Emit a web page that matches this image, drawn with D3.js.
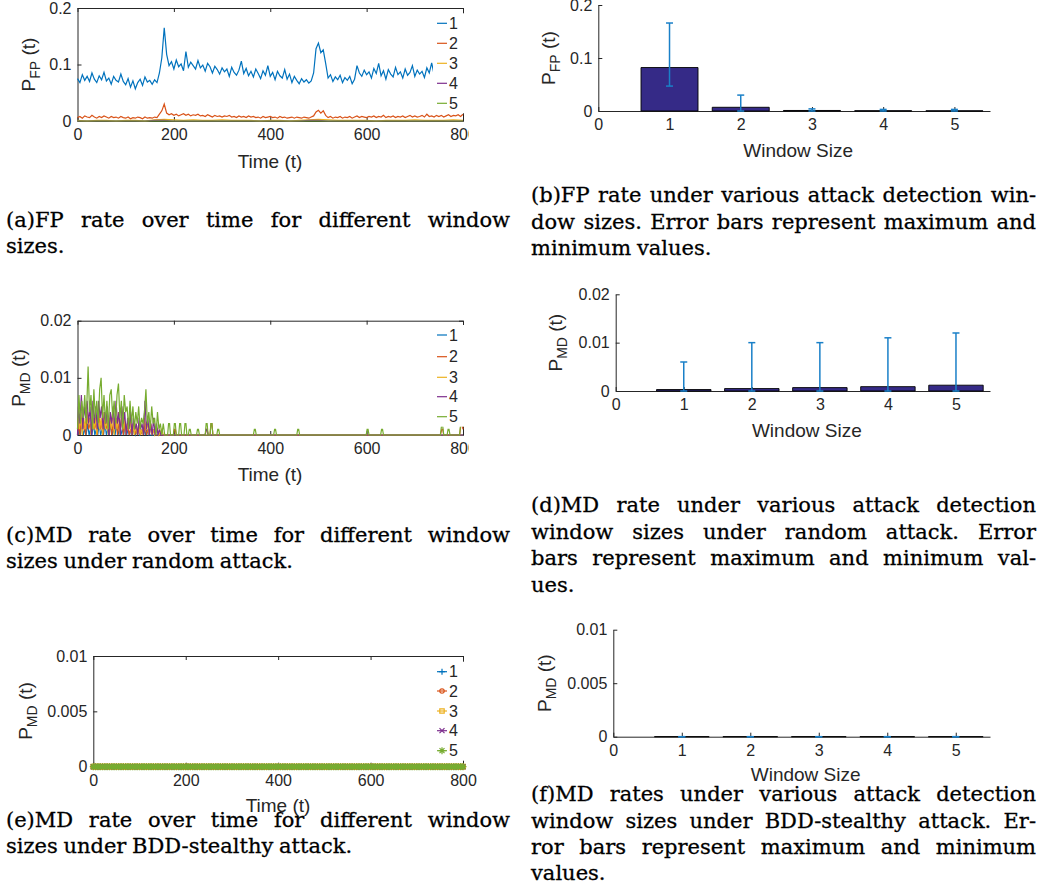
<!DOCTYPE html>
<html lang="en">
<head>
<meta charset="UTF-8">
<title>FP / MD rates for different window sizes</title>
<script src="https://d3js.org/d3.v7.min.js"></script>
<style>
  body { margin: 0; padding: 0; background: #fff; }
  svg { display: block; }
  .tick text, .lbl { font-family: "Liberation Sans", Arial, sans-serif; fill: #262626; }
  .cap { font-family: "DejaVu Serif", serif; fill: #000; stroke: #000; stroke-width: 0.3px; }
</style>
</head>
<body>
<svg id="fig" width="1043" height="894"></svg>
<script>
// ---------- data ----------
const windows = [1, 2, 3, 4, 5];
const timeTicks = [0, 200, 400, 600, 800];
const barTicks = [0, 1, 2, 3, 4, 5];
const fpTicks = [0, 0.1, 0.2];
const mdRandTicks = [0, 0.01, 0.02];
const mdBddTicks = [0, 0.005, 0.01];

// (a) FP rate, sampled every 5 time steps (t = 0..800)
const fpTime = d3.range(0, 801, 5);
const fpWin1 = [
  0.075, 0.068, 0.082, 0.072, 0.079, 0.070, 0.085, 0.074, 0.068, 0.080,
  0.073, 0.086, 0.071, 0.076, 0.065, 0.079, 0.072, 0.069, 0.083, 0.070,
  0.064, 0.075, 0.060, 0.071, 0.057, 0.068, 0.074, 0.063, 0.078, 0.069,
  0.072, 0.065, 0.073, 0.068, 0.085, 0.112, 0.165, 0.118, 0.098, 0.105,
  0.092, 0.108, 0.096, 0.101, 0.089, 0.123, 0.095, 0.104, 0.098, 0.092,
  0.107, 0.094, 0.099, 0.088, 0.102, 0.096, 0.085, 0.097, 0.091, 0.083,
  0.094, 0.087, 0.092, 0.079, 0.095, 0.086, 0.081, 0.090, 0.106, 0.084,
  0.093, 0.080, 0.088, 0.078, 0.092, 0.084, 0.075, 0.089, 0.081, 0.098,
  0.079, 0.086, 0.073, 0.088, 0.080, 0.076, 0.091, 0.074, 0.083, 0.068,
  0.079, 0.072, 0.066, 0.075, 0.069, 0.073, 0.067, 0.071, 0.085, 0.128,
  0.138, 0.121, 0.126, 0.102, 0.076, 0.082, 0.070, 0.078, 0.073, 0.081,
  0.068, 0.077, 0.072, 0.079, 0.066, 0.074, 0.098, 0.085, 0.079, 0.090,
  0.082, 0.087, 0.076, 0.093, 0.084, 0.102, 0.080, 0.089, 0.074, 0.091,
  0.083, 0.078, 0.095, 0.082, 0.087, 0.076, 0.092, 0.081, 0.086, 0.098,
  0.079, 0.090, 0.083, 0.088, 0.077, 0.094, 0.085, 0.103, 0.082, 0.091,
  0.086, 0.093, 0.081, 0.089, 0.084, 0.092, 0.087, 0.095, 0.088, 0.096,
  0.101
];
const fpWin2 = [
  0.006, 0.008, 0.005, 0.009, 0.007, 0.006, 0.010, 0.007, 0.005, 0.008,
  0.006, 0.009, 0.007, 0.005, 0.008, 0.006, 0.007, 0.005, 0.008, 0.006,
  0.005, 0.007, 0.004, 0.006, 0.005, 0.007, 0.006, 0.004, 0.007, 0.005,
  0.006, 0.005, 0.007, 0.006, 0.012, 0.018, 0.030, 0.014, 0.011, 0.013,
  0.010, 0.012, 0.009, 0.011, 0.013, 0.010, 0.012, 0.009, 0.011, 0.010,
  0.012, 0.009, 0.010, 0.008, 0.011, 0.009, 0.007, 0.010, 0.008, 0.009,
  0.007, 0.009, 0.008, 0.010, 0.007, 0.008, 0.006, 0.009, 0.007, 0.008,
  0.006, 0.009, 0.007, 0.008, 0.006, 0.007, 0.005, 0.008, 0.006, 0.007,
  0.008, 0.006, 0.007, 0.005, 0.008, 0.006, 0.007, 0.005, 0.006, 0.007,
  0.005, 0.007, 0.006, 0.005, 0.007, 0.006, 0.005, 0.007, 0.009, 0.016,
  0.019, 0.014, 0.018, 0.010, 0.006, 0.008, 0.005, 0.007, 0.006, 0.008,
  0.005, 0.007, 0.006, 0.008, 0.005, 0.007, 0.009, 0.006, 0.008, 0.007,
  0.006, 0.008, 0.007, 0.009, 0.006, 0.008, 0.007, 0.010, 0.006, 0.008,
  0.007, 0.009, 0.006, 0.008, 0.007, 0.009, 0.006, 0.008, 0.010, 0.007,
  0.009, 0.007, 0.008, 0.010, 0.007, 0.012, 0.008, 0.009, 0.007, 0.010,
  0.008, 0.010, 0.007, 0.009, 0.011, 0.008, 0.010, 0.009, 0.011, 0.008,
  0.012
];
// windows 3-5 sampled every 20 time steps
const fpTimeCoarse = d3.range(0, 801, 20);
const fpWin3 = [
  0.001, 0, 0.001, 0.001, 0, 0.001, 0.001, 0, 0.002, 0.003,
  0.002, 0.001, 0.002, 0.001, 0.001, 0.002, 0.001, 0.001, 0.001, 0,
  0.001, 0.001, 0, 0.001, 0.002, 0.003, 0.002, 0.001, 0.001, 0.001,
  0.001, 0, 0.001, 0.001, 0.001, 0.002, 0.001, 0.001, 0.001, 0.002,
  0.001
];
const fpWin4 = [
  0, 0, 0, 0, 0, 0, 0, 0, 0.001, 0.001,
  0, 0, 0, 0, 0, 0, 0, 0, 0, 0,
  0, 0, 0, 0, 0.001, 0.001, 0, 0, 0, 0,
  0, 0, 0, 0, 0, 0, 0, 0, 0, 0,
  0
];
const fpWin5 = [
  0, 0, 0, 0, 0, 0, 0, 0, 0, 0,
  0, 0, 0, 0, 0, 0, 0, 0, 0, 0,
  0, 0, 0, 0, 0, 0, 0, 0, 0, 0,
  0, 0, 0, 0, 0, 0, 0, 0, 0, 0,
  0
];

// (c) MD rate under random attack, [time, value] points
const mdRandWin1 = [[0,0],[3,0.001],[6,0],[9,0.002],[12,0],[15,0.001],[18,0],[21,0.002],[24,0],[27,0.001],[30,0],[33,0.002],[36,0],[39,0.001],[42,0],[45,0.002],[48,0],[51,0.001],[54,0],[57,0.002],[60,0],[63,0.001],[66,0],[69,0.002],[72,0],[75,0.001],[78,0],[81,0.002],[84,0],[87,0.001],[90,0],[93,0.001],[96,0],[99,0.002],[102,0],[105,0.001],[108,0],[111,0.001],[114,0],[117,0.001],[120,0],[126,0.001],[129,0],[138,0.001],[141,0],[144,0.001],[147,0],[800,0]];
const mdRandWin2 = [[0,0],[2,0.002],[5,0],[8,0.003],[11,0.001],[14,0.002],[17,0],[20,0.004],[23,0.001],[26,0.002],[29,0],[32,0.003],[35,0.001],[38,0.002],[41,0],[44,0.004],[47,0.001],[50,0.002],[53,0],[56,0.003],[59,0.001],[62,0.002],[65,0],[68,0.003],[71,0],[74,0.002],[77,0.001],[80,0.003],[83,0],[86,0.002],[89,0.001],[92,0.003],[95,0],[98,0.002],[101,0],[104,0.002],[107,0],[110,0.001],[113,0],[116,0.002],[119,0],[122,0.001],[125,0],[128,0.002],[131,0],[134,0.001],[137,0],[140,0.002],[143,0],[146,0.001],[149,0],[152,0.002],[155,0],[158,0.001],[161,0],[199,0],[201,0.001],[203,0.001],[205,0],[265,0],[267,0.001],[269,0.001],[271,0],[275,0],[277,0.002],[279,0.002],[281,0],[753,0],[756,0.001],[758,0.001],[760,0],[793,0],[796,0.002],[798,0.002],[800,0.001]];
const mdRandWin3 = [[0,0.001],[1,0.003],[4,0.001],[7,0.004],[10,0],[13,0.003],[16,0.001],[19,0.005],[22,0.002],[25,0.003],[28,0],[31,0.004],[34,0.001],[37,0.003],[40,0],[43,0.004],[46,0.001],[49,0.003],[52,0],[55,0.004],[58,0.001],[61,0.003],[64,0],[67,0.003],[70,0.001],[73,0.004],[76,0],[79,0.003],[82,0.001],[85,0.004],[88,0],[91,0.003],[94,0.001],[97,0.003],[100,0],[103,0.002],[106,0.001],[109,0.003],[112,0],[115,0.002],[118,0],[121,0.002],[124,0],[127,0.002],[130,0],[133,0.001],[136,0],[139,0.003],[142,0.001],[145,0.002],[148,0],[151,0.002],[154,0],[157,0.001],[160,0],[166,0.001],[169,0],[175,0.001],[178,0],[800,0]];
const mdRandWin4 = [[0,0],[2,0.005],[5,0.002],[8,0.007],[11,0.001],[14,0.005],[17,0.003],[20,0.006],[23,0.002],[26,0.005],[29,0],[32,0.006],[35,0.002],[38,0.005],[41,0.001],[44,0.006],[47,0.003],[50,0.005],[53,0.001],[56,0.004],[59,0.002],[62,0.005],[65,0],[68,0.004],[71,0.002],[74,0.005],[77,0.001],[80,0.006],[83,0.002],[86,0.004],[89,0],[92,0.005],[95,0.002],[98,0.004],[101,0],[104,0.003],[107,0.001],[110,0.004],[113,0],[116,0.003],[119,0.001],[122,0.002],[125,0],[128,0.003],[131,0.001],[134,0.002],[137,0],[140,0.006],[143,0.001],[146,0.003],[149,0],[152,0.002],[155,0],[158,0.003],[161,0],[164,0.002],[167,0],[170,0.001],[173,0],[265,0],[267,0.001],[269,0.001],[271,0],[800,0]];
const mdRandWin5 = [[0,0.001],[3,0.007],[6,0.002],[9,0.006],[12,0.003],[15,0.007],[18,0.002],[22,0.012],[25,0.004],[28,0.007],[31,0.001],[34,0.008],[37,0.003],[40,0.006],[43,0.002],[46,0.008],[49,0.010],[52,0.003],[55,0.007],[58,0.002],[61,0.006],[64,0.001],[67,0.007],[70,0.008],[73,0.003],[76,0.006],[79,0.002],[82,0.007],[85,0.009],[88,0.003],[91,0.006],[94,0.001],[97,0.007],[100,0.004],[103,0.005],[106,0.001],[109,0.006],[112,0.002],[115,0.005],[118,0.001],[121,0.004],[124,0.002],[127,0.005],[130,0.001],[133,0.003],[136,0.002],[139,0.004],[142,0.008],[145,0.002],[148,0.004],[151,0.001],[154,0.005],[157,0.002],[160,0.003],[163,0],[166,0.004],[169,0.001],[172,0.002],[175,0],[178,0.002],[181,0],
  [187,0],[189,0.002],[191,0.002],[193,0],[199,0],[201,0.002],[203,0.002],[205,0],[210,0],[212,0.002],[214,0.002],[216,0],[221,0],[223,0.002],[225,0.002],[227,0],[230,0],[232,0.001],[234,0.001],[236,0],[247,0],[249,0.001],[251,0.001],[253,0],[265,0],[267,0.002],[269,0.002],[271,0],[275,0],[277,0.002],[279,0.002],[281,0],[289,0],[291,0.001],[293,0.001],[295,0],[365,0],[367,0.001],[369,0.001],[371,0],[407,0],[409,0.001],[411,0.001],[413,0],[455,0],[457,0.001],[459,0.001],[461,0],[599,0],[601,0.001],[603,0.001],[605,0],[629,0],[631,0.001],[633,0.001],[635,0],[753,0],[756,0.002],[758,0.0015],[760,0],[767,0],[769,0.001],[771,0.001],[773,0],[793,0],[796,0.003],[798,0.003],[800,0.0015]];

// (e) MD rate under BDD-stealthy attack, every 5 time steps: identical for all windows
const mdBddTime = d3.range(0, 801, 5);
const mdBddValues = [
  0,0,0,0,0,0,0,0,0,0, 0,0,0,0,0,0,0,0,0,0, 0,0,0,0,0,0,0,0,0,0, 0,0,0,0,0,0,0,0,0,0,
  0,0,0,0,0,0,0,0,0,0, 0,0,0,0,0,0,0,0,0,0, 0,0,0,0,0,0,0,0,0,0, 0,0,0,0,0,0,0,0,0,0,
  0,0,0,0,0,0,0,0,0,0, 0,0,0,0,0,0,0,0,0,0, 0,0,0,0,0,0,0,0,0,0, 0,0,0,0,0,0,0,0,0,0,
  0,0,0,0,0,0,0,0,0,0, 0,0,0,0,0,0,0,0,0,0, 0,0,0,0,0,0,0,0,0,0, 0,0,0,0,0,0,0,0,0,0,
  0
];

// (b) (d) (f) bar charts: mean, max, min
const fpBarMean = [0.082, 0.007, 0.001, 0.0005, 0.0003];
const fpBarMax = [0.166, 0.030, 0.004, 0.003, 0.003];
const fpBarMin = [0.047, 0, 0, 0, 0];
const mdRandBarMean = [0.0003, 0.0005, 0.0007, 0.0009, 0.0012];
const mdRandBarMax = [0.006, 0.010, 0.010, 0.011, 0.012];
const mdRandBarMin = [0, 0, 0, 0, 0];
const mdBddBarMean = [0, 0, 0, 0, 0];
const mdBddBarMax = [0, 0, 0, 0, 0];
const mdBddBarMin = [0, 0, 0, 0, 0];

// captions
const capA = ["(a)FP rate over time for different window", "sizes."];
const capB = ["(b)FP rate under various attack detection win-", "dow sizes. Error bars represent maximum and", "minimum values."];
const capC = ["(c)MD rate over time for different window", "sizes under random attack."];
const capD = ["(d)MD rate under various attack detection", "window sizes under random attack. Error", "bars represent maximum and minimum val-", "ues."];
const capE = ["(e)MD rate over time for different window", "sizes under BDD-stealthy attack."];
const capF = ["(f)MD rates under various attack detection", "window sizes under BDD-stealthy attack. Er-", "ror bars represent maximum and minimum", "values."];

// ---------- drawing ----------
const AX = "#262626";
const COLORS = ["#0072BD", "#D95319", "#EDB120", "#7E2F8E", "#77AC30"];
const BAR = "#352a87";
const ERR = "#1a80c8";
const TICK_FS = 16, LABEL_FS = 19, CAP_FS = 21;

const svg = d3.select("#fig");
svg.append("rect").attr("width", 1043).attr("height", 894).attr("fill", "#fff");

const defs = svg.append("defs");
defs.append("clipPath").attr("id", "leftCrop")
  .append("rect").attr("x", 0).attr("y", 0).attr("width", 469).attr("height", 894);

function styleAxis(sel) {
  sel.selectAll("path.domain").attr("stroke", AX).attr("stroke-width", 1);
  sel.selectAll(".tick line").attr("stroke", AX);
  sel.selectAll(".tick text").style("font-size", TICK_FS + "px").attr("fill", AX);
}

function drawAxes(g, x, y, xTicks, yTicks, box) {
  const [x0, x1] = x.range();
  const [y1, y0] = y.range();
  g.append("g").attr("transform", `translate(0,${y1})`)
    .call(d3.axisBottom(x).tickValues(xTicks).tickFormat(String).tickSizeInner(-4).tickSizeOuter(0).tickPadding(8))
    .call(styleAxis);
  g.append("g").attr("transform", `translate(${x0},0)`)
    .call(d3.axisLeft(y).tickValues(yTicks).tickFormat(String).tickSizeInner(-4).tickSizeOuter(0).tickPadding(6))
    .call(styleAxis);
  if (box) {
    g.append("g").attr("transform", `translate(0,${y0})`)
      .call(d3.axisTop(x).tickValues(xTicks).tickFormat("").tickSizeInner(-4).tickSizeOuter(0))
      .call(styleAxis);
    g.append("g").attr("transform", `translate(${x1},0)`)
      .call(d3.axisRight(y).tickValues(yTicks).tickFormat("").tickSizeInner(-4).tickSizeOuter(0))
      .call(styleAxis);
  }
}

function xLabel(g, x, y, txt) {
  g.append("text").attr("class", "lbl").attr("x", x).attr("y", y)
    .attr("text-anchor", "middle").style("font-size", LABEL_FS + "px").text(txt);
}

function yLabel(g, x, y, sub) {
  const t = g.append("text").attr("class", "lbl")
    .attr("transform", `translate(${x},${y}) rotate(-90)`)
    .attr("text-anchor", "middle").style("font-size", LABEL_FS + "px");
  t.append("tspan").text("P");
  t.append("tspan").attr("dy", 5).style("font-size", "14px").text(sub);
  t.append("tspan").attr("dy", -5).text(" (t)");
}

function legend(g, x, ys, markers) {
  g.append("rect").attr("x", x - 4).attr("y", ys[0] - 10).attr("width", 33)
    .attr("height", ys[ys.length - 1] - ys[0] + 20).attr("fill", "#fff");
  windows.forEach((w, i) => {
    g.append("line").attr("x1", x).attr("x2", x + 10).attr("y1", ys[i]).attr("y2", ys[i])
      .attr("stroke", COLORS[i]).attr("stroke-width", 1.2);
    if (markers) {
      g.append("path").attr("d", markers[i]).attr("transform", `translate(${x + 5},${ys[i]})`)
        .attr("fill", "none").attr("stroke", COLORS[i]).attr("stroke-width", 1.2);
    }
    g.append("text").attr("class", "lbl").attr("x", x + 12).attr("y", ys[i]).attr("dy", "0.36em")
      .style("font-size", TICK_FS + "px").attr("fill", "#000").text(w);
  });
}

// ----- (a) -----
{
  const g = svg.append("g").attr("clip-path", "url(#leftCrop)");
  const x = d3.scaleLinear().domain([0, 800]).range([77.5, 463]);
  const y = d3.scaleLinear().domain([0, 0.2]).range([121, 8]);
  drawAxes(g, x, y, timeTicks, fpTicks, true);
  const line = d3.line().x(d => x(d[0])).y(d => y(d[1]));
  const series = [
    d3.zip(fpTime, fpWin1), d3.zip(fpTime, fpWin2),
    d3.zip(fpTimeCoarse, fpWin3), d3.zip(fpTimeCoarse, fpWin4), d3.zip(fpTimeCoarse, fpWin5)
  ];
  series.forEach((s, i) => {
    g.append("path").datum(s).attr("d", line).attr("fill", "none")
      .attr("stroke", COLORS[i]).attr("stroke-width", 1.2);
  });
  legend(g, 437, [23.3, 43.3, 63.3, 83.3, 103.3]);
  xLabel(g, 270, 168, "Time (t)");
  yLabel(g, 35, 64.5, "FP");
}

// ----- (c) -----
{
  const g = svg.append("g").attr("clip-path", "url(#leftCrop)");
  const x = d3.scaleLinear().domain([0, 800]).range([77.5, 463]);
  const y = d3.scaleLinear().domain([0, 0.02]).range([435, 320.7]);
  drawAxes(g, x, y, timeTicks, mdRandTicks, true);
  const line = d3.line().x(d => x(d[0])).y(d => y(d[1]));
  [mdRandWin1, mdRandWin2, mdRandWin3, mdRandWin4, mdRandWin5].forEach((s, i) => {
    g.append("path").datum(s).attr("d", line).attr("fill", "none")
      .attr("stroke", COLORS[i]).attr("stroke-width", 1.2);
  });
  legend(g, 437, [335, 356.7, 377.3, 396.7, 416.7]);
  xLabel(g, 270, 481, "Time (t)");
  yLabel(g, 25, 378, "MD");
}

// ----- (e) -----
{
  const g = svg.append("g");
  const x = d3.scaleLinear().domain([0, 800]).range([93.3, 463]);
  const y = d3.scaleLinear().domain([0, 0.01]).range([766.7, 656]);
  drawAxes(g, x, y, timeTicks, mdBddTicks, true);
  const markers = [
    "M-3,0H3M0,-3V3",
    "M2.2,0A2.2,2.2 0 1,1 -2.2,0A2.2,2.2 0 1,1 2.2,0Z",
    "M-2.2,-2.2H2.2V2.2H-2.2Z",
    "M-2.5,-2.5L2.5,2.5M-2.5,2.5L2.5,-2.5",
    "M-3.5,0H3.5M0,-3.5V3.5M-2.5,-2.5L2.5,2.5M-2.5,2.5L2.5,-2.5"
  ];
  const line = d3.line().x(d => x(d[0])).y(d => y(d[1]));
  const pts = d3.zip(mdBddTime, mdBddValues);
  windows.forEach((w, i) => {
    g.append("path").datum(pts).attr("d", line).attr("fill", "none")
      .attr("stroke", COLORS[i]).attr("stroke-width", 1.2);
    g.append("g").selectAll("path").data(pts).join("path")
      .attr("d", markers[i]).attr("transform", d => `translate(${x(d[0])},${y(d[1])})`)
      .attr("fill", "none").attr("stroke", COLORS[i]).attr("stroke-width", 1.3);
  });
  legend(g, 437, [671.7, 691, 711, 730.7, 750.7], markers);
  xLabel(g, 278, 812, "Time (t)");
  yLabel(g, 31.7, 711, "MD");
}

// ----- bar panels -----
function barPanel(o) {
  const g = svg.append("g");
  const x = d3.scaleLinear().domain([0, 5.5]).range([o.x0, 990]);
  const y = d3.scaleLinear().domain([0, o.yMax]).range([o.y1, o.y0]);
  drawAxes(g, x, y, barTicks, o.yTicks, false);
  g.selectAll("path.bar").data(windows).join("path").attr("class", "bar")
    .attr("d", (w, i) => `M${x(w - 0.4)},${y(0)}V${y(o.mean[i])}H${x(w + 0.4)}V${y(0)}Z`)
    .attr("fill", BAR).attr("stroke", "#000").attr("stroke-width", 0.9);
  const eb = g.selectAll("g.eb").data(windows).join("g").attr("class", "eb")
    .attr("stroke", ERR).attr("stroke-width", 1.5);
  eb.append("line").attr("x1", w => x(w)).attr("x2", w => x(w))
    .attr("y1", (w, i) => y(o.min[i])).attr("y2", (w, i) => y(o.max[i]));
  eb.append("line").attr("x1", w => x(w) - 3.5).attr("x2", w => x(w) + 3.5)
    .attr("y1", (w, i) => y(o.max[i])).attr("y2", (w, i) => y(o.max[i]));
  eb.append("line").attr("x1", w => x(w) - 3.5).attr("x2", w => x(w) + 3.5)
    .attr("y1", (w, i) => y(o.min[i])).attr("y2", (w, i) => y(o.min[i]));
  xLabel(g, x(2.75) + 4, o.y1 + o.labDy, "Window Size");
  yLabel(g, o.labX, (o.y0 + o.y1) / 2, o.sub);
}

barPanel({ x0: 598.3, y0: 5, y1: 111, yMax: 0.2, yTicks: fpTicks,
  mean: fpBarMean, max: fpBarMax, min: fpBarMin, labX: 555, labDy: 46, sub: "FP" });
barPanel({ x0: 615.7, y0: 294.3, y1: 391, yMax: 0.02, yTicks: mdRandTicks,
  mean: mdRandBarMean, max: mdRandBarMax, min: mdRandBarMin, labX: 561.7, labDy: 46, sub: "MD" });
barPanel({ x0: 613.3, y0: 629.7, y1: 736.7, yMax: 0.01, yTicks: mdBddTicks,
  mean: mdBddBarMean, max: mdBddBarMax, min: mdBddBarMin, labX: 551, labDy: 44, sub: "MD" });

// ----- captions (justified) -----
function caption(lines, x0, x1, baselines) {
  const W = x1 - x0;
  const g = svg.append("g");
  const rows = lines.map((ln, i) => {
    const rg = g.append("g");
    const words = ln.split(" ").map(w => {
      const t = rg.append("text").attr("class", "cap").style("font-size", CAP_FS + "px")
        .attr("y", baselines[i]).text(w);
      return { t, w: t.node().getComputedTextLength() };
    });
    return { rg, words, total: d3.sum(words, d => d.w) };
  });
  const minGap = CAP_FS * 0.22;
  let s = 1;
  rows.forEach((r, i) => {
    if (i < rows.length - 1) s = Math.min(s, W / (r.total + minGap * (r.words.length - 1)));
  });
  rows.forEach((r, i) => {
    const last = i === rows.length - 1;
    const n = r.words.length;
    const gap = (last || n < 2) ? CAP_FS * 0.27 : (W / s - r.total) / (n - 1);
    let cx = 0;
    r.words.forEach(d => { d.t.attr("x", cx); cx += d.w + gap; });
    r.rg.attr("transform", `translate(${x0},0) scale(${s},1)`);
  });
}

caption(capA, 6, 510, [227, 253]);
caption(capB, 531, 1036, [202, 228.5, 255]);
caption(capC, 6, 510, [541.5, 568]);
caption(capD, 531, 1036, [512, 538.5, 565, 591.5]);
caption(capE, 6, 510, [827, 853]);
caption(capF, 531, 1036, [801, 827.5, 854, 880]);
</script>
</body>
</html>
